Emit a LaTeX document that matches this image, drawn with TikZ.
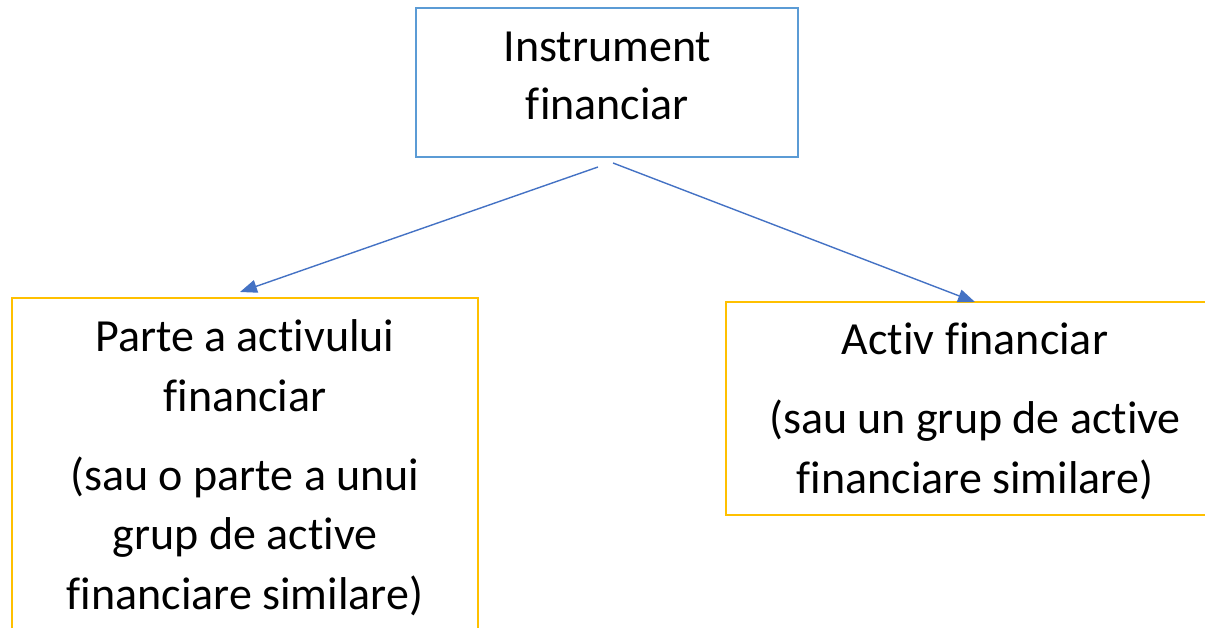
\documentclass[tikz,border=0pt]{standalone}
\usepackage{fontspec}
\setmainfont{Carlito}[Ligatures=NoCommon]
\usetikzlibrary{arrows.meta}
\definecolor{boxblue}{HTML}{5B9BD5}
\definecolor{boxorange}{HTML}{FFC000}
\definecolor{arrblue}{HTML}{4472C4}
\begin{document}
\begin{tikzpicture}[x=1pt,y=-1pt,
  bluebox/.style={draw=boxblue,line width=1.8pt,inner sep=0pt},
  orangebox/.style={draw=boxorange,line width=2.2pt,inner sep=0pt},
  txt/.style={anchor=base,inner sep=0pt,font=\fontsize{46}{58}\selectfont},
  conn/.style={draw=arrblue,line width=1.4pt,-{Triangle[length=17pt,width=13pt]}}]
\useasboundingbox (0,0) rectangle (1205,628);
\begin{scope}
\clip (0,0) rectangle (1205,628);
\node[bluebox,minimum width=382pt,minimum height=149pt] (top) at (607,82.5) {};
\node[orangebox,minimum width=466pt,minimum height=422pt] (left) at (245,509) {};
\node[orangebox,minimum width=498pt,minimum height=213pt] (right) at (975,408.5) {};
\end{scope}
% top text
\node[txt] (t1) at (607.5,62) {Instrument};
\node[txt] (t2) at (607.5,120) {financiar};
% left text
\node[txt] (l1) at (245,352) {Parte a activului};
\node[txt] (l2) at (245,411) {financiar};
\node[txt] (l3) at (245,490) {(sau o parte a unui};
\node[txt] (l4) at (245,549) {grup de active};
\node[txt] (l5) at (245,609) {financiare similare)};
% right text
\node[txt] (r1) at (975,355) {Activ financiar};
\node[txt] (r2) at (975,433) {(sau un grup de active};
\node[txt] (r3) at (975,493) {financiare similare)};
% connectors
\coordinate (sL) at (598,167);
\coordinate (eL) at (240,292);
\coordinate (sR) at (613,163);
\coordinate (eR) at (975,302);
\draw[conn] (sL) -- (eL);
\draw[conn] (sR) -- (eR);
\end{tikzpicture}
\end{document}
